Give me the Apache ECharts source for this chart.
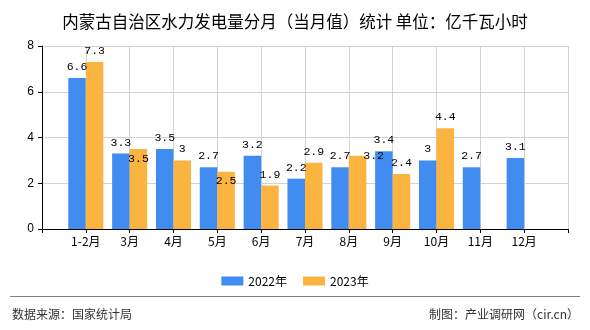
<!DOCTYPE html>
<html>
<head>
<meta charset="utf-8">
<script src="https://cdn.jsdelivr.net/npm/echarts@6/dist/echarts.min.js"></script>
<style>
  html, body { margin: 0; padding: 0; background: #fff; }
  #chart { width: 590px; height: 330px; }
</style>
</head>
<body>
<div id="chart"></div>
<script>
// Monthly hydropower generation, Inner Mongolia (100 million kWh)
const months = ['1-2月', '3月', '4月', '5月', '6月', '7月', '8月', '9月', '10月', '11月', '12月'];
const series2022 = [6.6, 3.3, 3.5, 2.7, 3.2, 2.2, 2.7, 3.4, 3, 2.7, 3.1];
const series2023 = [7.3, 3.5, 3, 2.5, 1.9, 2.9, 3.2, 2.4, 4.4, null, null];
const seriesNames = ['2022年', '2023年'];
const yTicks = { min: 0, max: 8, interval: 2 };

// Labels that are nudged away from neighbouring labels (index into months -> [dx, dy])
const labelNudge2023 = { 1: [0, 21], 3: [0, 20], 6: [16, 11] };

const CJK = "'Noto Sans CJK SC', sans-serif";
const MONO = "'Liberation Mono', 'DejaVu Sans Mono', monospace";

// Pad an empty slot on each side so month ticks sit on grid lines
const axisCats = [''].concat(months, ['']);
const pad = arr => [null].concat(arr, [null]);

const data2023 = pad(series2023.map((v, i) => {
  const n = labelNudge2023[i];
  return n ? { value: v, label: { offset: n } } : v;
}));

const labelStyle = {
  show: true,
  position: 'top',
  distance: 5,
  color: '#000',
  fontFamily: MONO,
  fontSize: 11.5
};

const chart = echarts.init(document.getElementById('chart'), null, { renderer: 'canvas' });
chart.setOption({
  animation: false,
  backgroundColor: '#fff',
  title: {
    text: '内蒙古自治区水力发电量分月（当月值）统计 单位：亿千瓦小时',
    left: 'center',
    top: 8,
    textStyle: { fontFamily: CJK, fontSize: 16.5, fontWeight: 'normal', color: '#000' }
  },
  legend: {
    data: seriesNames,
    left: 'center',
    top: 270,
    icon: 'rect',
    itemWidth: 22,
    itemHeight: 9,
    itemGap: 16,
    textStyle: { fontFamily: CJK, fontSize: 12, color: '#000' }
  },
  grid: { left: 42, right: 22, top: 46, bottom: 101, containLabel: false },
  xAxis: {
    type: 'category',
    data: axisCats,
    boundaryGap: false,
    axisLine: { lineStyle: { color: '#000', width: 1 } },
    axisTick: { show: true, interval: 0, length: 4, lineStyle: { color: '#000' } },
    axisLabel: { interval: 0, margin: 6, color: '#000', fontFamily: CJK, fontSize: 12 },
    splitLine: { show: true, interval: 0, lineStyle: { color: '#d3d3d3', width: 1 } }
  },
  yAxis: {
    type: 'value',
    min: yTicks.min,
    max: yTicks.max,
    interval: yTicks.interval,
    axisLine: { show: true, lineStyle: { color: '#000', width: 1 } },
    axisTick: { show: true, length: 4, lineStyle: { color: '#000' } },
    axisLabel: { margin: 8, color: '#000', fontFamily: "'Liberation Sans', Arial, sans-serif", fontSize: 12 },
    splitLine: { show: true, lineStyle: { color: '#d3d3d3', width: 1 } }
  },
  series: [
    {
      name: seriesNames[0],
      type: 'bar',
      data: pad(series2022),
      barGap: '0%',
      barCategoryGap: '20%',
      itemStyle: { color: '#418CF0' },
      label: labelStyle
    },
    {
      name: seriesNames[1],
      type: 'bar',
      data: data2023,
      barGap: '0%',
      barCategoryGap: '20%',
      itemStyle: { color: '#FCB441' },
      label: labelStyle
    }
  ],
  graphic: [
    {
      type: 'line',
      shape: { x1: 10, y1: 296.5, x2: 580, y2: 296.5 },
      style: { stroke: '#808080', lineWidth: 1 }
    },
    {
      type: 'text',
      left: 12,
      top: 308,
      style: { text: '数据来源：国家统计局', fill: '#333', font: "12px 'Noto Sans CJK SC', sans-serif" }
    },
    {
      type: 'text',
      right: 11,
      top: 308,
      style: { text: '制图：产业调研网（cir.cn）', fill: '#333', font: "12px 'Noto Sans CJK SC', sans-serif" }
    }
  ]
});
</script>
</body>
</html>
